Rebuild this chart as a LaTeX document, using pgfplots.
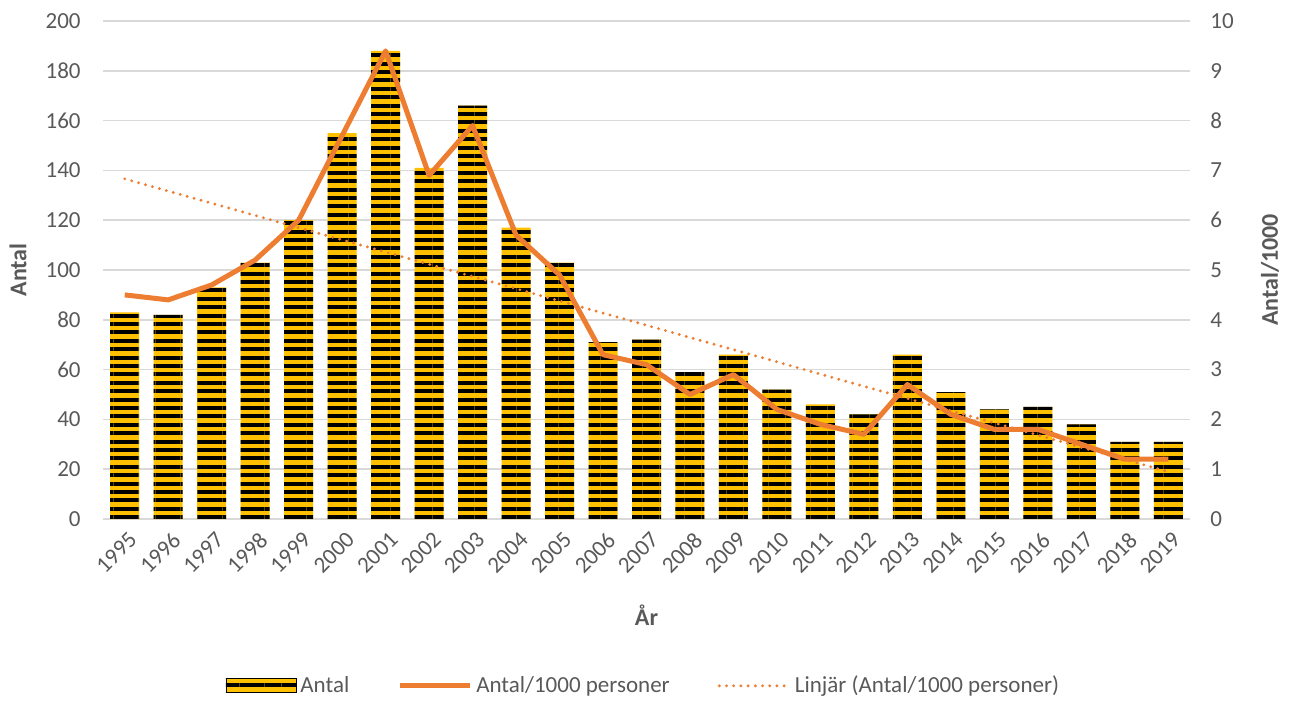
\documentclass[border=0pt]{standalone}
\usepackage{fontspec}
\setmainfont{Carlito}
\usepackage{pgfplots}
\pgfplotsset{compat=1.18}
\usetikzlibrary{patterns.meta}
\definecolor{barY}{HTML}{FFC000}
\definecolor{lineO}{HTML}{ED7D31}
\definecolor{txt}{HTML}{595959}
\definecolor{gridc}{HTML}{D9D9D9}
\pgfplotsset{
  linelegend/.style={legend image code/.code={\draw[##1] (0pt,0pt) -- (35pt,0pt);}},
  common/.style={
    scale only axis, width=543.5pt, height=249pt,
    at={(0pt,0pt)}, anchor=south west,
    xmin=-0.5, xmax=24.5,
    major tick length=0pt,
    tick label style={font=\fontsize{11.5}{13}\selectfont, text=txt},
    label style={font=\fontsize{12}{14}\selectfont\bfseries, text=txt},
    /pgf/number format/assume math mode=true,
  }
}
\begin{document}
\begin{tikzpicture}
\useasboundingbox (-51.5pt,-91.5pt) rectangle (599pt,259.5pt);
\begin{axis}[common,
  ymin=0, ymax=200, ytick={0,20,...,200},
  xtick={0,...,24},
  xticklabels={1995,1996,1997,1998,1999,2000,2001,2002,2003,2004,2005,2006,2007,2008,2009,2010,2011,2012,2013,2014,2015,2016,2017,2018,2019},
  xticklabel style={rotate=45, anchor=north east, inner sep=0pt, xshift=-3pt, yshift=-5pt},
  yticklabel style={anchor=east, inner sep=0pt, xshift=-11pt},
  ymajorgrids, grid style={gridc, line width=0.75pt},
  axis x line*=bottom, axis y line*=left,
  x axis line style={gridc, line width=0.75pt},
  y axis line style={draw=none},
  xlabel={År}, ylabel={Antal},
  xlabel style={at={(axis description cs:0.5,0)}, anchor=center, yshift=-48pt},
  ylabel style={at={(axis description cs:0,0.5)}, anchor=center, yshift=42.5pt},
]
\addplot[ybar, bar width=14.5pt, fill=barY, draw=none,
  postaction={pattern={Lines[angle=0,distance=4.2pt,line width=2pt]}, pattern color=black}]
coordinates {
(0,83) (1,82) (2,93) (3,103) (4,120) (5,155) (6,188) (7,141) (8,166) (9,117)
(10,103) (11,71) (12,72) (13,59) (14,66) (15,52) (16,46) (17,42) (18,66) (19,51)
(20,44) (21,45) (22,38) (23,31) (24,31)
};
\end{axis}
\begin{axis}[common,
  ymin=0, ymax=10, ytick={0,1,...,10},
  axis y line*=right, axis x line=none,
  y axis line style={draw=none},
  yticklabel style={anchor=west, inner sep=0pt, xshift=10pt},
  ylabel={Antal/1000},
  ylabel style={at={(axis description cs:1,0.5)}, anchor=center, yshift=-40pt},
  legend columns=3,
  legend cell align=left,
  legend style={draw=none, fill=none, at={(axis description cs:0.498,-0.335)}, anchor=center,
    font=\fontsize{11.5}{13}\selectfont, text=txt,
    /tikz/every even column/.append style={column sep=22pt},
    /tikz/every odd column/.append style={column sep=0pt}},
]
\addlegendimage{legend image code/.code={
  \fill[barY] (0pt,-3.5pt) rectangle (35pt,3.5pt);
  \fill[pattern={Lines[angle=0,distance=4.2pt,line width=2pt]}, pattern color=black] (0pt,-3.5pt) rectangle (35pt,3.5pt);}}
\addlegendentry{Antal}
\addplot[lineO, line width=2.5pt, line join=round, linelegend] coordinates {
(0,4.5) (1,4.4) (2,4.7) (3,5.2) (4,6.0) (5,7.7) (6,9.4) (7,6.9) (8,7.9) (9,5.7)
(10,4.9) (11,3.3) (12,3.1) (13,2.5) (14,2.9) (15,2.2) (16,1.9) (17,1.7) (18,2.7) (19,2.1)
(20,1.8) (21,1.8) (22,1.5) (23,1.2) (24,1.2)
};
\addlegendentry{Antal/1000 personer}
\addplot[lineO, line width=1.6pt, line cap=round, dash pattern=on 0pt off 3.6pt, linelegend] coordinates {
(0,6.83) (24,0.95)
};
\addlegendentry{Linjär (Antal/1000 personer)}
\end{axis}
\end{tikzpicture}
\end{document}
